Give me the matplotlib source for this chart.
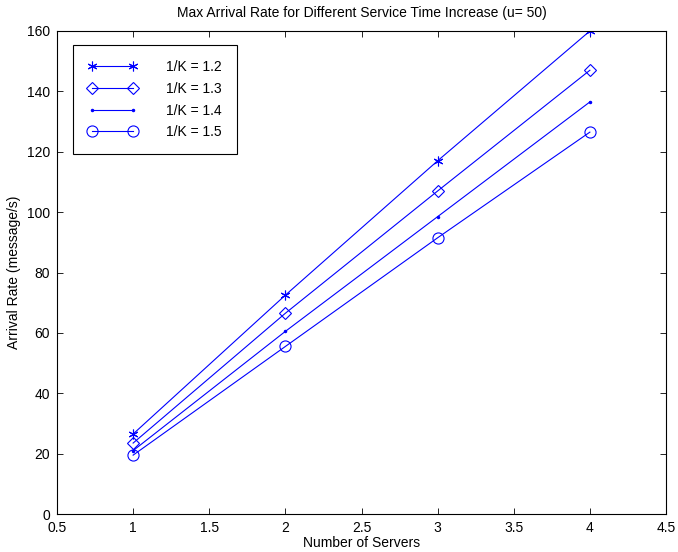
import matplotlib
matplotlib.use('Agg')
import matplotlib.pyplot as plt

plt.rcParams['font.family'] = ['Liberation Sans', 'DejaVu Sans']

servers = [1, 2, 3, 4]
rate_12 = [26.5, 72.5, 117, 160]
rate_13 = [23.5, 66.5, 107, 147]
rate_14 = [21, 60.5, 98.5, 136.5]
rate_15 = [19.5, 55.5, 91.5, 126.5]
labels = ['1/K = 1.2', '1/K = 1.3', '1/K = 1.4', '1/K = 1.5']

fig = plt.figure(figsize=(6.78, 5.52), dpi=100)
ax = fig.add_axes([57/678, 38/552, 609/678, 483/552])

blue = (0, 0, 1)
ax.plot(servers, rate_12, color=blue, lw=0.8, marker=(6, 2, 0), ms=7, mew=0.8, label=labels[0])
ax.plot(servers, rate_13, color=blue, lw=0.8, marker='D', ms=6, mfc='none', mew=0.8, label=labels[1])
ax.plot(servers, rate_14, color=blue, lw=0.8, marker='.', ms=3, label=labels[2])
ax.plot(servers, rate_15, color=blue, lw=0.8, marker='o', ms=8, mfc='none', mew=0.8, label=labels[3])

ax.set_xlim(0.5, 4.5)
ax.set_ylim(0, 160)
ax.set_xticks([0.5, 1, 1.5, 2, 2.5, 3, 3.5, 4, 4.5])
ax.set_xticklabels(['0.5', '1', '1.5', '2', '2.5', '3', '3.5', '4', '4.5'])
ax.set_yticks(range(0, 161, 20))
ax.tick_params(direction='in', top=True, right=True, labelsize=10, length=4, width=0.6)
ax.tick_params(axis='x', pad=5)
ax.tick_params(axis='y', pad=5)
for s in ax.spines.values():
    s.set_linewidth(0.8)

ax.set_xlabel('Number of Servers', fontsize=10, labelpad=1)
ax.set_ylabel('Arrival Rate (message/s)', fontsize=10, labelpad=4)
ax.set_title('Max Arrival Rate for Different Service Time Increase (u= 50)', fontsize=10, pad=10)

leg = ax.legend(loc='upper left', bbox_to_anchor=(73/678, 1 - 45/552),
                bbox_transform=fig.transFigure, numpoints=2, fontsize=10,
                fancybox=False, edgecolor='black', framealpha=1,
                handlelength=3.5, handletextpad=2.1, borderpad=1.1,
                labelspacing=0.55, borderaxespad=0)
leg.get_frame().set_linewidth(0.8)

fig.savefig('out.png', dpi=100, facecolor='white')
